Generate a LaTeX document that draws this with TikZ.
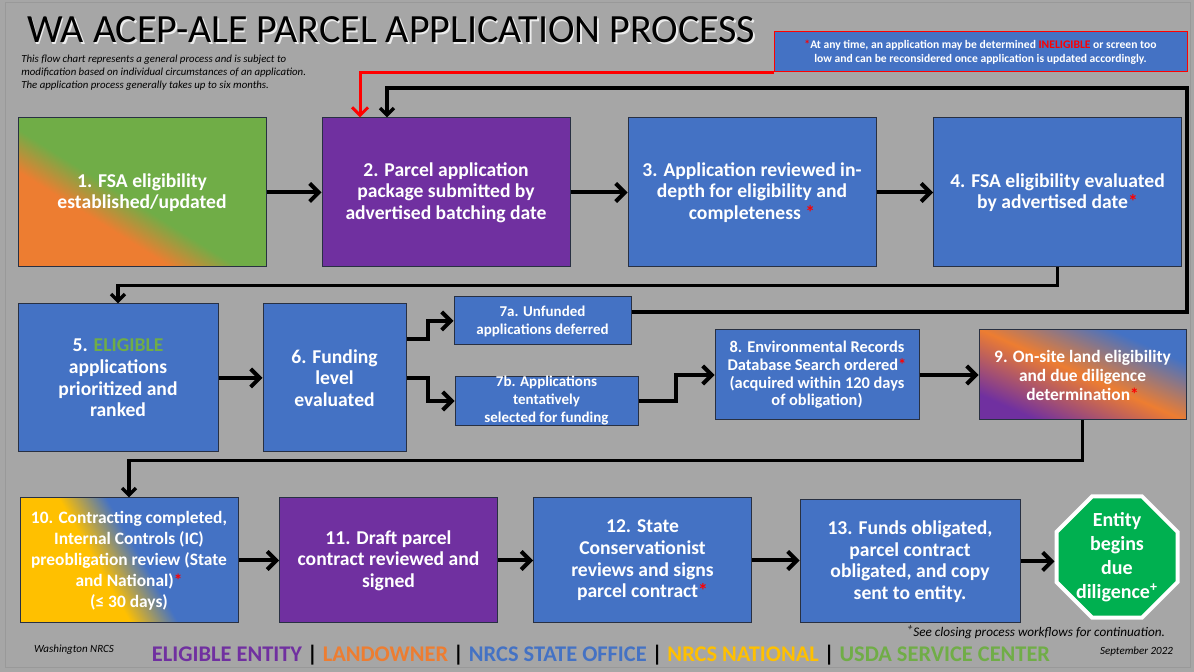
\documentclass[tikz,border=0pt]{standalone}
\usepackage{fontspec}
\setmainfont{Carlito}
\usetikzlibrary{arrows.meta,calc,shapes.geometric}
\definecolor{bggray}{RGB}{166,166,166}
\definecolor{nrcsblue}{RGB}{68,114,196}
\definecolor{entitypurple}{RGB}{112,48,160}
\definecolor{ownerorange}{RGB}{237,125,49}
\definecolor{centergreen}{RGB}{112,173,71}
\definecolor{natyellow}{RGB}{255,192,0}
\definecolor{stopgreen}{RGB}{0,176,80}
\definecolor{boxedge}{RGB}{40,48,66}
\pgfdeclarehorizontalshading{orange_green}{100bp}{color(0bp)=(ownerorange); color(42bp)=(ownerorange); color(48bp)=(centergreen); color(100bp)=(centergreen)}
\pgfdeclarehorizontalshading{purple_orange_blue}{100bp}{color(0bp)=(entitypurple); color(40bp)=(entitypurple); color(50bp)=(ownerorange); color(59bp)=(nrcsblue); color(100bp)=(nrcsblue)}
\pgfdeclarehorizontalshading{yellow_blue}{100bp}{color(0bp)=(natyellow); color(45bp)=(natyellow); color(52bp)=(nrcsblue); color(100bp)=(nrcsblue)}
\begin{document}
\begin{tikzpicture}[x=0.5pt, y=-0.5pt,
  box_style/.style={draw=boxedge, line width=0.5pt, text=white, align=center, inner sep=2pt, font=\bfseries\fontsize{9.8pt}{10.8pt}\selectfont},
  grad_fill/.style 2 args={path picture={\shade[shading=#1, shading angle=#2] ($(path picture bounding box.center)+(-75pt,-75pt)$) rectangle ($(path picture bounding box.center)+(75pt,75pt)$);}},
  small_font/.style={font=\bfseries\fontsize{7.5pt}{9pt}\selectfont},
  mid_font/.style={font=\bfseries\fontsize{8.2pt}{8.8pt}\selectfont},
  top_size/.style={minimum width=124pt, minimum height=74.5pt},
  low_size/.style={minimum width=109pt, minimum height=62.5pt},
  edge_style/.style={draw=black, line width=2pt, -{Straight Barb[length=4.5pt,width=9pt]}},
  back_style/.style={draw=black, line width=1.7pt, -{Straight Barb[length=3.5pt,width=7pt]}},
  red_style/.style={draw=red, line width=1.5pt, -{Straight Barb[length=4pt,width=8pt]}}]
  \fill[bggray] (0,0) rectangle (1194,672);
  \draw[gray!80, line width=0.5pt] (5,3) rectangle (1190,668);
  % title and notes
  \node[anchor=base west, text=white!85!gray, font=\fontsize{20pt}{24pt}\selectfont] (titleglow) at (21.5,44.5) {WA ACEP-ALE PARCEL APPLICATION PROCESS};
  \node[anchor=base west, font=\fontsize{20pt}{24pt}\selectfont] (title) at (20,43) {WA ACEP-ALE PARCEL APPLICATION PROCESS};
  \node[anchor=north west, align=left, inner sep=0pt, font=\itshape\fontsize{5.4pt}{6.5pt}\selectfont] (intro) at (21,55) {This flow chart represents a general process and is subject to\\modification based on individual circumstances of an application.\\The application process generally takes up to six months.};
  \node[draw=red, line width=0.5pt, fill=nrcsblue, text=white, align=center, minimum width=206.5pt, minimum height=20pt, inner sep=1pt, font=\bfseries\fontsize{5.8pt}{7pt}\selectfont] (note) at (980.5,52) {\textcolor{red}{*}At any time, an application may be determined \textcolor{red}{INELIGIBLE} or screen too\\low and can be reconsidered once application is updated accordingly.};
  % process steps
  \draw
    (142,192.5) node[box_style, top_size, grad_fill={orange_green}{58}] (b1) {1. FSA eligibility\\established/updated}
    (446,192.5) node[box_style, top_size, fill=entitypurple] (b2) {2. Parcel application\\package submitted by\\advertised batching date}
    (752,192.5) node[box_style, top_size, fill=nrcsblue] (b3) {3. Application reviewed in-\\depth for eligibility and\\completeness \textcolor{red}{*}}
    (1057.5,192.5) node[box_style, top_size, fill=nrcsblue] (b4) {4. FSA eligibility evaluated\\by advertised date\textcolor{red}{*}}
    (118,378) node[box_style, fill=nrcsblue, minimum width=100pt, minimum height=74pt] (b5) {5. \textcolor{centergreen}{ELIGIBLE}\\applications\\prioritized and\\ranked}
    (334.5,378) node[box_style, fill=nrcsblue, minimum width=71.5pt, minimum height=74pt] (b6) {6. Funding\\level\\evaluated}
    (542.5,321) node[box_style, small_font, fill=nrcsblue, minimum width=88.5pt, minimum height=24pt] (b7a) {7a. Unfunded\\applications deferred}
    (546.5,401) node[box_style, small_font, fill=nrcsblue, minimum width=91.5pt, minimum height=24pt, inner sep=0pt] (b7b) {7b. Applications\\tentatively\\selected for funding}
    (817,375) node[box_style, mid_font, fill=nrcsblue, minimum width=102pt, minimum height=45pt] (b8) {8. Environmental Records\\Database Search ordered\textcolor{red}{*}\\(acquired within 120 days\\of obligation)}
    (1082.5,375) node[box_style, font=\bfseries\fontsize{8.7pt}{9.5pt}\selectfont, minimum width=103.5pt, minimum height=45pt, grad_fill={purple_orange_blue}{66}] (b9) {9. On-site land eligibility\\and due diligence\\determination\textcolor{red}{*}}
    (129,560.5) node[box_style, low_size, font=\bfseries\fontsize{8.7pt}{10.5pt}\selectfont, grad_fill={yellow_blue}{30}] (b10) {10. Contracting completed,\\Internal Controls (IC)\\preobligation review (State\\and National)\textcolor{red}{*}\\(≤ 30 days)}
    (388.5,560.5) node[box_style, low_size, fill=entitypurple] (b11) {11. Draft parcel\\contract reviewed and\\signed}
    (642.5,560.5) node[box_style, low_size, fill=nrcsblue] (b12) {12. State\\Conservationist\\reviews and signs\\parcel contract\textcolor{red}{*}}
    (910,561.5) node[box_style, fill=nrcsblue, minimum width=110pt, minimum height=61.5pt] (b13) {13. Funds obligated,\\parcel contract\\obligated, and copy\\sent to entity.}
    (1117,557) node[regular polygon, regular polygon sides=8, minimum size=65.5pt, fill=stopgreen, draw=white, line width=2pt, text=white, align=center, inner sep=-5pt, font=\bfseries\fontsize{10pt}{12pt}\selectfont] (stop) {Entity\\begins\\due\\diligence\textsuperscript{+}};
  % connectors
  \coordinate (loopcorner) at (1187,88);
  \draw[edge_style] (b1) -- (b2);
  \draw[edge_style] (b2) -- (b3);
  \draw[edge_style] (b3) -- (b4);
  \draw[back_style] (b4.south) -- ++(0,18) -| (b5.north);
  \draw[edge_style] (b5) -- (b6);
  \draw[edge_style] ($(b6.east)+(0,-39)$) -- ++(21,0) |- (b7a.west);
  \draw[edge_style] (b6.east) -- ++(21,0) |- (b7b.west);
  \draw[edge_style] (b7b.east) -- ++(37,0) |- (b8.west);
  \draw[edge_style] (b8) -- (b9);
  \draw[back_style] ($(b7a.east)+(0,-9)$) -| (loopcorner) -| ($(b2.north)+(-59,0)$);
  \draw[red_style] (note.south west) -| ($(b2.north)+(-86,0)$);
  \draw[back_style] (b9.south) -- ++(0,40) -| (b10.north);
  \draw[edge_style] (b10) -- (b11);
  \draw[edge_style] (b11) -- (b12);
  \draw[edge_style] (b12.east) -- (b12.east -| b13.west);
  \draw[edge_style] (b13.east) -- (b13.east -| stop.west);
  % legend and footer
  \node[font=\bfseries\fontsize{11.2pt}{13pt}\selectfont] (legend) at (601,655) {\textcolor{entitypurple}{ELIGIBLE ENTITY} | \textcolor{ownerorange}{LANDOWNER} | \textcolor{nrcsblue}{NRCS STATE OFFICE} | \textcolor{natyellow}{NRCS NATIONAL} | \textcolor{centergreen}{USDA SERVICE CENTER}};
  \node[anchor=base west, font=\itshape\fontsize{5.5pt}{6.5pt}\selectfont] (office) at (27,653) {Washington NRCS};
  \node[anchor=base east, font=\itshape\fontsize{5.5pt}{6.5pt}\selectfont] (date) at (1180,655) {September 2022};
  \node[anchor=base east, font=\itshape\fontsize{6.6pt}{8pt}\selectfont] (closing) at (1172,637) {\textsuperscript{+}See closing process workflows for continuation.};
\end{tikzpicture}
\end{document}
